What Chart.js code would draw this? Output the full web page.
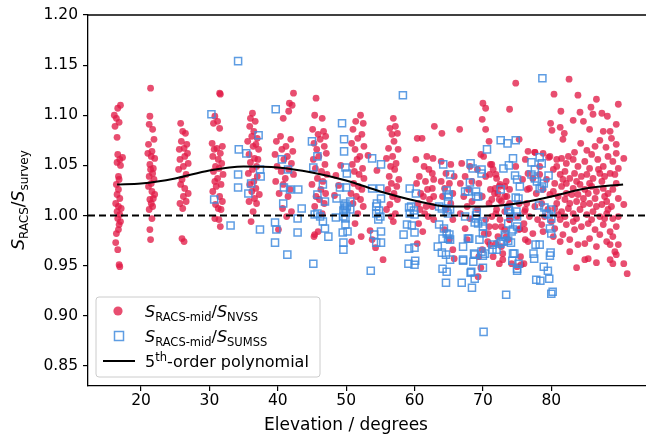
<!DOCTYPE html>
<html>
<head>
    <title>Flux ratio vs elevation</title>
    <script src="https://cdn.jsdelivr.net/npm/chart.js"></script>
    <style>
        body { margin: 0; background: #fff; }
        canvas { display: block; }
    </style>
</head>
<body>
    <canvas id="ratioChart" width="646" height="435"></canvas>

    <script>
        // axis limits and ticks
        const xMin = 12.25, xMax = 93.85;
        const yMin = 0.83, yMax = 1.20;
        const xTicks = [20, 30, 40, 50, 60, 70, 80];
        const yTicks = [0.85, 0.90, 0.95, 1.00, 1.05, 1.10, 1.15, 1.20];

        // S_RACS-mid / S_NVSS (red dots)
        const nvssElev = [
            // ~16.5 deg
            17.0,16.6,16.1,16.4,16.8,16.2,16.5,16.6,17.3,16.9,16.5,17.0,16.7,16.8,16.4,16.7,16.5,16.9,16.3,16.7,17.1,16.5,16.9,16.6,17.0,16.8,16.7,16.4,16.3,16.6,16.8,16.9,
            // ~21.5 deg
            21.4,21.3,21.2,21.7,21.9,21.1,21.6,21.0,21.5,22.0,21.3,21.8,21.4,21.7,21.2,21.9,21.5,21.1,21.6,22.0,21.8,21.3,21.5,21.7,21.2,21.6,21.3,21.4,
            // ~26 deg
            25.8,26.1,26.5,25.9,26.7,26.3,25.6,26.8,26.4,25.7,26.9,26.2,25.5,26.6,26.0,25.8,26.4,26.9,26.2,26.6,25.7,26.1,26.0,26.3,
            // ~31 deg
            31.5,31.6,30.8,31.2,30.6,31.5,30.4,31.9,31.1,30.7,31.6,30.5,31.3,31.8,30.9,31.4,30.6,32.0,31.2,30.8,31.7,31.0,30.5,31.5,31.9,30.9,31.3,31.7,30.8,31.4,31.6,
            // ~36 deg
            36.3,36.0,36.7,35.9,36.5,36.2,37.0,35.6,36.8,36.4,37.2,35.8,36.6,37.1,36.0,36.9,36.3,35.7,37.0,36.5,35.9,36.8,36.2,37.3,36.6,35.8,36.9,36.4,36.1,
            // ~41 deg
            42.3,41.7,42.1,41.6,40.8,40.4,41.9,39.8,41.2,40.6,42.2,39.6,41.4,40.9,42.0,39.9,41.6,40.5,42.3,41.1,39.7,40.8,41.8,40.2,41.5,40.7,42.0,41.3,40.1,
            // ~46 deg
            45.6,45.4,46.5,45.1,46.7,45.9,47.0,46.2,45.3,46.8,45.7,47.1,46.0,45.2,46.9,45.5,46.4,47.2,45.8,46.6,45.0,46.3,47.0,45.6,46.1,46.8,45.4,46.5,45.9,45.3,45.4,
            // ~49 deg
            48.5,48.9,49.2,48.3,
            // ~51.5 deg
            52.1,51.4,52.5,51.0,52.3,51.7,50.8,52.6,51.3,52.0,51.6,50.9,52.4,51.2,51.9,52.6,51.1,51.8,52.3,50.7,51.5,52.1,51.0,52.5,51.7,51.3,52.2,50.8,
            // ~54 deg
            53.2,54.5,53.5,54.3,53.8,
            // ~56.5 deg
            56.9,57.2,56.4,57.5,56.7,57.0,56.2,57.6,56.8,55.9,57.3,56.5,57.1,56.3,57.7,56.6,57.4,56.1,57.0,56.8,57.5,56.4,55.9,57.2,56.6,56.9,55.4,
            // ~61 deg
            60.4,61.1,61.8,60.2,61.4,62.1,60.7,61.6,60.3,61.9,60.9,61.3,62.2,60.5,61.7,60.8,61.5,62.0,60.6,61.2,60.4,
            62.9,64.0,62.7,62.6,62.8,62.6,62.8,62.6,62.8,
            // 63-66 deg
            63.9,65.3,64.6,65.8,63.9,65.1,64.4,65.6,64.1,65.3,64.6,65.6,64.4,65.1,65.6,65.8,
            // 66-68.5 deg
            66.6,66.9,68.1,67.4,68.4,66.7,67.9,67.2,68.4,67.7,66.7,68.1,67.4,67.7,
            // 69-71 deg
            70.0,70.4,69.9,70.4,70.9,69.7,71.1,69.2,70.4,69.4,71.1,69.9,70.9,69.2,70.4,70.9,70.2,70.7,69.9,69.4,69.7,69.3,
            // 71.5-74 deg
            73.9,71.9,73.4,72.4,73.9,71.7,73.2,72.4,73.6,71.9,73.9,72.7,73.4,71.9,72.9,72.4,
            70.1,71.3,71.5,71.0,72.0,72.5,73.2,71.8,72.2,73.5,71.3,72.7,73.9,72.0,73.2,71.3,72.5,73.9,71.8,73.2,70.8,72.2,73.7,71.0,72.7,71.5,72.9,74.2,75.6,
            // 74.5-76.5 deg
            74.8,75.3,76.2,74.8,75.8,76.5,75.3,76.2,75.0,76.0,75.3,76.2,75.5,76.0,75.0,
            // 76-91 deg, dense part
            82.6,80.4,83.9,86.6,89.8,81.4,85.8,84.2,87.4,86.1,83.2,84.7,88.2,89.5,79.9,80.1,81.3,81.9,85.6,87.6,88.6,81.7,84.3,87.1,88.8,89.5,83.4,85.2,86.4,88.0,77.6,79.6,90.6,
            80.8,81.5,82.2,83.2,83.9,84.9,85.6,86.8,87.6,88.3,89.0,89.8,
            80.3,81.3,82.0,82.7,83.4,84.4,85.2,86.1,87.1,87.8,88.6,89.3,
            76.6,77.3,78.3,79.3,80.5,81.5,82.2,83.2,84.2,84.9,85.9,86.6,87.6,88.3,89.0,90.6,
            76.8,77.8,78.8,79.8,81.0,82.0,83.0,83.7,84.7,85.6,86.4,87.4,88.1,88.8,
            76.4,77.6,78.6,79.5,80.5,81.5,82.5,83.2,84.2,85.2,86.1,87.1,88.1,89.0,
            76.8,78.0,79.0,80.0,81.3,82.2,83.2,84.4,85.4,86.4,87.6,88.6,89.5,
            76.1,77.3,78.8,80.3,81.7,82.7,83.9,84.9,86.6,88.6,89.8,
            82.7,89.3,89.5,84.9,85.4,83.7,88.6,89.0,86.6,90.6,91.1,76.6,75.4,
            78.8,80.8,82.5,85.9,86.9,89.5,78.3,81.7,83.7,85.6,87.4,89.5,80.3,82.2,83.9,85.4,87.8,89.8,80.8,
            82.7,84.7,86.6,88.3,76.1,81.0,82.0,83.7,85.9,87.8,89.8,78.6,80.5,83.4,87.1,89.0,81.3,85.6,88.1,
            76.6,77.6,79.8
        ];
        const nvssRatio = [
            1.110,1.107,1.100,1.097,1.093,1.089,1.078,1.061,1.058,1.056,1.053,1.050,1.039,1.036,1.031,1.026,1.021,1.017,1.012,1.009,1.007,1.004,1.001,0.997,0.994,0.991,0.986,0.982,0.973,0.966,0.951,0.949,
            1.127,1.099,1.091,1.086,1.076,1.071,1.064,1.062,1.059,1.057,1.051,1.047,1.046,1.042,1.039,1.036,1.032,1.029,1.024,1.021,1.017,1.016,1.012,1.009,1.006,0.997,0.986,0.976,
            1.092,1.084,1.082,1.074,1.071,1.067,1.066,1.062,1.059,1.056,1.052,1.049,1.046,1.041,1.036,1.031,1.027,1.022,1.019,1.014,1.012,1.007,0.977,0.974,
            1.122,1.121,1.099,1.094,1.092,1.087,1.072,1.069,1.067,1.066,1.062,1.059,1.056,1.052,1.049,1.047,1.044,1.041,1.037,1.034,1.031,1.029,1.024,1.019,1.014,1.011,1.007,1.006,0.997,0.996,0.989,
            1.102,1.097,1.094,1.089,1.084,1.079,1.077,1.074,1.071,1.069,1.066,1.061,1.057,1.056,1.053,1.049,1.046,1.042,1.039,1.034,1.031,1.027,1.024,1.021,1.017,1.014,1.012,1.004,0.994,
            1.122,1.112,1.110,1.104,1.097,1.079,1.076,1.074,1.069,1.066,1.064,1.061,1.059,1.056,1.052,1.049,1.046,1.044,1.041,1.037,1.034,1.031,1.026,1.022,1.019,1.007,1.004,0.999,0.986,
            1.117,1.100,1.097,1.086,1.084,1.081,1.079,1.076,1.072,1.069,1.066,1.062,1.059,1.056,1.051,1.047,1.044,1.041,1.037,1.034,1.031,1.026,1.022,1.019,1.016,1.012,1.009,1.002,0.984,0.979,0.981,
            1.040,1.030,1.050,1.020,
            1.100,1.094,1.092,1.086,1.081,1.077,1.072,1.069,1.066,1.059,1.056,1.051,1.047,1.044,1.041,1.037,1.032,1.029,1.026,1.022,1.019,1.016,1.012,1.009,1.002,0.992,0.979,0.974,
            1.060,1.045,0.985,0.968,0.976,
            1.097,1.089,1.087,1.082,1.081,1.074,1.067,1.066,1.059,1.057,1.052,1.049,1.046,1.039,1.036,1.032,1.029,1.026,1.022,1.019,1.016,1.011,1.006,1.002,0.999,0.994,0.956,
            1.077,1.077,1.059,1.056,1.049,1.046,1.039,1.034,1.032,1.026,1.022,1.019,1.016,1.012,1.009,1.006,1.002,0.999,0.992,0.984,0.972,
            1.089,1.082,1.057,1.042,1.036,1.027,1.019,1.009,0.996,
            1.054,1.051,1.042,1.039,1.034,1.032,1.027,1.022,1.019,1.012,1.006,0.996,0.986,0.976,0.966,0.957,
            1.086,1.052,1.049,1.039,1.034,1.032,1.026,1.019,1.014,1.009,1.002,0.997,0.987,0.976,
            1.112,1.107,1.096,1.086,1.074,1.061,1.051,1.046,1.039,1.032,1.026,1.019,1.012,1.006,0.996,0.989,0.982,0.974,0.966,0.959,0.948,0.939,
            1.106,1.041,1.034,1.029,1.026,1.022,1.019,1.016,1.009,1.002,0.996,0.989,0.979,0.972,0.962,0.952,
            1.059,1.051,1.046,1.041,1.037,1.031,1.029,1.027,1.022,1.019,1.016,1.014,1.012,1.006,1.004,0.999,0.996,0.996,0.989,0.986,0.982,0.979,0.976,0.971,0.969,0.959,0.956,0.952,0.951,
            1.132,1.076,1.056,1.049,1.036,1.026,1.012,1.006,0.999,0.992,0.986,0.976,0.959,0.952,0.949,
            1.136,1.121,1.120,1.116,1.111,1.104,1.108,1.103,1.102,1.101,1.095,1.094,1.099,1.091,1.092,1.085,1.088,1.082,1.086,1.084,1.084,1.076,1.072,1.075,1.077,1.071,1.063,1.065,1.069,1.068,1.063,1.058,1.057,
            1.056,1.057,1.052,1.056,1.049,1.054,1.047,1.056,1.049,1.059,1.054,1.047,
            1.046,1.041,1.044,1.037,1.042,1.039,1.041,1.037,1.042,1.039,1.042,1.041,
            1.042,1.037,1.041,1.036,1.032,1.029,1.032,1.027,1.031,1.026,1.029,1.024,1.027,1.022,1.026,1.011,
            1.027,1.022,1.026,1.021,1.019,1.016,1.021,1.014,1.017,1.012,1.017,1.011,1.014,1.009,
            1.012,1.009,1.012,1.006,1.007,1.004,1.007,1.002,1.006,1.001,1.004,0.999,1.002,0.997,
            0.999,0.996,0.999,0.994,0.996,0.991,0.994,0.989,0.992,0.986,0.991,0.984,0.989,
            0.986,0.982,0.984,0.979,0.981,0.976,0.971,0.972,0.969,0.971,0.971,
            0.964,0.964,0.961,0.956,0.957,0.948,0.956,0.952,0.953,0.952,0.942,0.974,0.987,
            1.062,1.049,1.059,1.061,1.046,1.062,1.049,1.036,1.034,1.032,1.034,1.032,1.024,1.022,1.021,1.022,1.019,1.017,1.012,
            1.012,1.011,1.009,1.006,1.004,1.001,0.999,0.997,0.996,0.997,0.999,0.991,0.987,0.986,0.981,0.979,0.974,0.977,0.974,
            1.064,1.063,1.059
        ];

        // S_RACS-mid / S_SUMSS (blue open squares)
        const sumssElev = [
            30.3,30.7,33.1,34.2,34.3,35.4,34.2,34.2,36.1,35.7,37.2,37.4,37.5,37.4,
            39.7,40.6,41.5,40.9,41.8,43.0,40.8,43.5,39.6,39.8,42.9,42.9,39.6,41.4,
            45.0,45.2,45.8,45.2,46.6,45.8,46.9,45.8,46.6,47.4,46.9,45.4,46.2,
            49.4,49.7,49.7,49.9,50.1,49.1,50.0,48.6,49.8,49.6,48.5,50.2,49.5,49.6,49.6,
            49.7,49.9,50.1,49.6,50.0,49.9,49.9,50.6,50.6,
            53.8,55.1,53.8,55.0,55.1,54.4,54.8,54.7,54.1,55.1,54.4,55.1,53.6,54.5,54.4,55.0,
            58.3,59.3,60.2,59.2,59.9,59.3,58.9,59.6,58.4,60.0,59.2,60.0,59.1,60.0,60.1,59.5,60.0,
            64.2,65.2,63.6,64.3,64.7,64.9,64.1,63.4,64.0,65.2,64.1,64.7,64.6,63.6,64.7,64.9,64.9,64.7,
            65.0,64.0,65.2,64.9,65.1,65.2,64.6,
            68.2,68.5,69.8,69.8,70.6,67.1,67.1,66.9,68.3,68.8,68.4,67.8,69.0,69.3,70.0,70.0,70.0,70.3,70.0,68.8,70.0,
            67.4,67.4,67.8,69.0,69.0,69.3,70.1,68.1,69.0,69.1,68.8,68.0,69.5,68.7,69.8,67.1,68.6,68.2,
            72.6,73.6,74.8,74.4,73.0,73.8,74.7,75.0,75.4,72.6,74.8,75.2,73.7,74.0,75.0,73.7,75.0,74.2,73.3,
            71.4,72.0,72.5,73.0,73.7,74.1,74.4,75.2,75.0,75.0,73.4,73.8,74.9,74.4,73.2,72.7,71.4,74.6,74.3,
            78.7,77.1,78.3,78.6,77.6,77.1,77.6,79.6,77.9,78.9,78.3,78.6,78.2,79.0,80.0,79.3,79.6,80.0,
            79.8,80.0,77.7,78.3,77.4,77.5,79.9,79.8,78.9,79.5,77.8,78.4,79.7,80.2,80.0
        ];
        const sumssRatio = [
            1.101,1.016,0.990,1.154,1.066,1.062,1.041,1.028,1.032,1.022,1.080,1.046,1.039,0.986,
            1.106,1.056,1.046,1.028,1.026,1.026,1.012,1.007,0.993,0.986,0.997,0.983,0.973,0.961,
            1.074,0.952,1.059,1.048,1.031,1.021,1.014,1.002,0.994,0.979,0.987,1.001,0.999,
            1.092,1.076,1.064,1.048,1.042,1.028,1.028,1.017,1.007,0.999,0.998,0.984,0.983,0.973,0.966,
            1.010,1.012,1.009,1.005,1.003,0.997,0.991,1.014,1.006,
            1.057,1.051,1.027,1.027,1.017,1.009,1.005,0.996,0.981,0.984,0.973,0.973,0.945,1.012,1.002,0.999,
            1.120,1.027,1.022,1.008,1.005,1.002,0.991,0.990,0.981,0.983,0.967,0.968,0.952,0.951,0.955,1.009,1.001,
            1.051,1.041,0.991,0.987,0.982,0.977,0.977,0.969,0.963,0.956,0.947,0.944,0.933,1.009,1.004,1.019,1.014,1.025,
            1.021,1.007,1.006,1.002,0.981,0.976,0.961,
            1.052,1.047,1.046,1.042,1.066,0.969,0.956,0.933,0.944,0.937,0.928,0.977,0.997,0.992,0.994,0.989,0.982,0.962,0.960,0.961,0.948,
            1.024,0.999,1.024,1.024,1.019,1.019,0.884,1.033,1.000,1.003,0.993,0.977,0.976,0.962,0.964,0.955,0.954,0.943,
            1.075,1.072,1.075,1.057,1.047,1.050,1.040,1.036,1.029,1.026,1.018,1.017,1.005,1.002,0.999,0.992,0.989,0.984,0.979,
            0.966,0.966,0.972,0.974,0.975,0.973,0.962,0.952,0.947,0.945,0.921,1.006,1.004,0.986,0.981,0.974,0.971,0.962,0.955,
            1.137,1.053,1.058,1.052,1.046,1.041,1.037,1.040,1.034,1.032,1.027,1.029,1.010,1.008,1.006,1.002,1.001,0.997,
            0.987,0.982,0.971,0.971,0.962,0.957,0.963,0.960,0.949,0.945,0.936,0.935,0.937,0.924,0.922
        ];

        // 5th-order polynomial fit
        const polyElev = [16.5, 20, 25, 30, 35, 40, 45, 50, 55, 60, 65, 70, 75, 80, 85, 90.5];
        const polyRatio = [1.031, 1.032, 1.037, 1.045, 1.049, 1.048, 1.043, 1.035, 1.024, 1.015, 1.009, 1.009, 1.012, 1.019, 1.027, 1.031];

        // unity reference line
        const refRatio = 1.00;

        const toPoints = (xs, ys) => xs.slice(0, Math.min(xs.length, ys.length)).map((x, i) => ({ x: x, y: ys[i] }));

        const red = 'rgba(226, 28, 72, 0.78)';
        const blue = 'rgba(66, 140, 222, 0.85)';
        const FONT = '"DejaVu Sans", "Liberation Sans", sans-serif';

        // draws a run of text pieces (italic, subscript, superscript) left to right
        function richWidth(ctx, parts) {
            let w = 0;
            parts.forEach(p => { ctx.font = p.f; w += ctx.measureText(p.t).width; });
            return w;
        }
        function drawRich(ctx, parts, x, y) {
            let cx = x;
            parts.forEach(p => {
                ctx.font = p.f;
                ctx.fillText(p.t, cx, y + (p.dy || 0));
                cx += ctx.measureText(p.t).width;
            });
        }

        const decor = {
            id: 'decor',
            afterDraw(chart) {
                const ctx = chart.ctx;
                const a = chart.chartArea;
                ctx.save();
                ctx.fillStyle = '#000';
                ctx.strokeStyle = '#000';

                // top spine (right spine is cut off in the reference)
                ctx.lineWidth = 1.3;
                ctx.beginPath();
                ctx.moveTo(a.left, a.top);
                ctx.lineTo(a.right, a.top);
                ctx.stroke();

                // x title
                ctx.textBaseline = 'alphabetic';
                ctx.textAlign = 'left';
                ctx.font = '17px ' + FONT;
                const xt = 'Elevation / degrees';
                const xw = ctx.measureText(xt).width;
                ctx.fillText(xt, 346 - xw / 2, 430);

                // y title, rotated
                const big = '17px ' + FONT, bigIt = 'italic 17px ' + FONT, sub = '12px ' + FONT;
                const yParts = [
                    { t: 'S', f: bigIt }, { t: 'RACS', f: sub, dy: 4 },
                    { t: '/', f: big }, { t: 'S', f: bigIt }, { t: 'survey', f: sub, dy: 4 }
                ];
                ctx.save();
                ctx.translate(24, 200);
                ctx.rotate(-Math.PI / 2);
                drawRich(ctx, yParts, -richWidth(ctx, yParts) / 2, 0);
                ctx.restore();

                // legend
                const bx = 96, by = 297, bw = 224, bh = 80;
                ctx.beginPath();
                ctx.roundRect(bx, by, bw, bh, 3);
                ctx.fillStyle = 'rgba(255,255,255,0.85)';
                ctx.fill();
                ctx.strokeStyle = '#cccccc';
                ctx.lineWidth = 1;
                ctx.stroke();

                ctx.fillStyle = red;
                ctx.beginPath();
                ctx.arc(118, 311, 4.6, 0, Math.PI * 2);
                ctx.fill();

                ctx.strokeStyle = blue;
                ctx.lineWidth = 1.5;
                ctx.strokeRect(114.5, 331.5, 9, 9);

                ctx.strokeStyle = '#000';
                ctx.lineWidth = 2;
                ctx.beginPath();
                ctx.moveTo(103, 361);
                ctx.lineTo(135, 361);
                ctx.stroke();

                ctx.fillStyle = '#000';
                const lf = '16px ' + FONT, lfIt = 'italic 16px ' + FONT, ls = '11.5px ' + FONT;
                drawRich(ctx, [
                    { t: 'S', f: lfIt }, { t: 'RACS-mid', f: ls, dy: 3.5 },
                    { t: '/', f: lf }, { t: 'S', f: lfIt }, { t: 'NVSS', f: ls, dy: 3.5 }
                ], 145, 317);
                drawRich(ctx, [
                    { t: 'S', f: lfIt }, { t: 'RACS-mid', f: ls, dy: 3.5 },
                    { t: '/', f: lf }, { t: 'S', f: lfIt }, { t: 'SUMSS', f: ls, dy: 3.5 }
                ], 145, 342);
                drawRich(ctx, [
                    { t: '5', f: lf }, { t: 'th', f: ls, dy: -6 }, { t: '-order polynomial', f: lf }
                ], 145, 367);

                ctx.restore();
            }
        };

        const ctx = document.getElementById('ratioChart').getContext('2d');

        const ratioChart = new Chart(ctx, {
            type: 'scatter',
            data: {
                datasets: [
                    {
                        label: 'fit',
                        data: toPoints(polyElev, polyRatio),
                        showLine: true,
                        borderColor: '#000',
                        borderWidth: 2,
                        pointRadius: 0,
                        cubicInterpolationMode: 'monotone',
                        order: 0
                    },
                    {
                        label: 'unity',
                        data: toPoints([xMin, xMax], [refRatio, refRatio]),
                        showLine: true,
                        borderColor: '#000',
                        borderWidth: 2,
                        borderDash: [7, 4],
                        pointRadius: 0,
                        order: 1
                    },
                    {
                        label: 'SUMSS',
                        data: toPoints(sumssElev, sumssRatio),
                        pointStyle: 'rect',
                        pointRadius: 5,
                        backgroundColor: 'rgba(0,0,0,0)',
                        borderColor: blue,
                        borderWidth: 1.5,
                        order: 2
                    },
                    {
                        label: 'NVSS',
                        data: toPoints(nvssElev, nvssRatio),
                        pointStyle: 'circle',
                        pointRadius: 3.4,
                        backgroundColor: red,
                        borderWidth: 0,
                        order: 3
                    }
                ]
            },
            options: {
                responsive: false,
                animation: false,
                devicePixelRatio: 1,
                layout: { autoPadding: false, padding: { top: 15, right: 0, left: 0, bottom: 0 } },
                plugins: {
                    legend: { display: false },
                    tooltip: { enabled: false }
                },
                scales: {
                    x: {
                        type: 'linear',
                        min: xMin,
                        max: xMax,
                        afterBuildTicks: s => { s.ticks = xTicks.map(v => ({ value: v })); },
                        afterFit: s => { s.height = 49; s.paddingLeft = 0; s.paddingRight = 0; },
                        ticks: {
                            color: '#000',
                            font: { family: FONT, size: 15.5 },
                            padding: 1,
                            maxRotation: 0,
                            callback: v => String(v)
                        },
                        grid: { drawOnChartArea: false, drawTicks: true, tickLength: 5, color: '#000', lineWidth: 1.2 },
                        border: { display: true, color: '#000', width: 1.3 }
                    },
                    y: {
                        type: 'linear',
                        min: yMin,
                        max: yMax,
                        afterBuildTicks: s => { s.ticks = yTicks.map(v => ({ value: v })); },
                        afterFit: s => { s.width = 88; s.paddingTop = 0; s.paddingBottom = 0; },
                        ticks: {
                            color: '#000',
                            font: { family: FONT, size: 15.5 },
                            padding: 5,
                            callback: v => Number(v).toFixed(2)
                        },
                        grid: { drawOnChartArea: false, drawTicks: true, tickLength: 5, color: '#000', lineWidth: 1.2 },
                        border: { display: true, color: '#000', width: 1.3 }
                    }
                }
            },
            plugins: [decor]
        });
    </script>
</body>
</html>
